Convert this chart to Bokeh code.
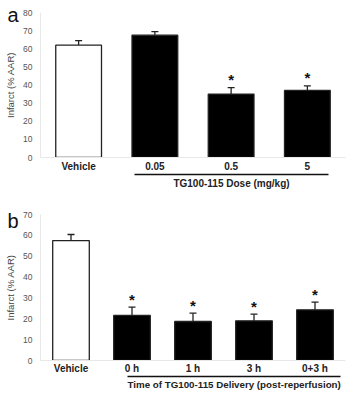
from bokeh.plotting import figure
from bokeh.models import (Range1d, LinearAxis, Whisker, ColumnDataSource,
                          FixedTicker, TeeHead)
from bokeh.layouts import column
from bokeh.embed import file_html
from bokeh.resources import INLINE
from bokeh.core.properties import value

# ---- data: panel a ----
cats_a = ["Vehicle", "0.05", "0.5", "5"]
vals_a = [62.0, 67.5, 35.0, 37.0]
err_a = [2.5, 2.0, 3.5, 2.5]
sig_a = [False, False, True, True]
ticks_a = [0, 10, 20, 30, 40, 50, 60, 70, 80]
title_a = "TG100-115 Dose (mg/kg)"

# ---- data: panel b ----
cats_b = ["Vehicle", "0 h", "1 h", "3 h", "0+3 h"]
vals_b = [57.5, 21.6, 18.7, 19.0, 24.3]
err_b = [2.9, 4.0, 4.0, 3.2, 3.7]
sig_b = [False, True, True, True, True]
ticks_b = [0, 10, 20, 30, 40, 50, 60, 70]
title_b = "Time of TG100-115 Delivery (post-reperfusion)"

FONT = "Liberation Sans"


def make_panel(letter, cats, vals, errs, sig, ticks, title, height, top, bottom,
               right, line_bounds, letter_y, cat_standoff, cat_lh, title_standoff,
               title_size):
    n = len(cats)
    xs = [i + 0.5 for i in range(n)]  # category slot centres
    p = figure(x_range=Range1d(0, n), y_range=Range1d(ticks[0], ticks[-1]),
               width=350, height=height, output_backend="svg", toolbar_location=None,
               min_border_left=40, min_border_right=right, min_border_top=top,
               min_border_bottom=bottom)
    p.outline_line_color = None
    p.xgrid.grid_line_color = None
    p.ygrid.grid_line_color = None

    fills = ["white" if i == 0 else "black" for i in range(n)]
    upper = [v + e for v, e in zip(vals, errs)]
    src = ColumnDataSource(dict(x=xs, top=vals, upper=upper, fill=fills))
    p.vbar(x="x", top="top", width=0.6, source=src, fill_color="fill",
           line_color="#222222", line_width=1.3)
    p.add_layout(Whisker(base="x", upper="upper", lower="top", source=src,
                         line_color="#222222", line_width=1.3,
                         upper_head=TeeHead(size=7, line_color="#222222", line_width=1.3),
                         lower_head=None))
    sx = [x for x, s in zip(xs, sig) if s]
    sy = [u for u, s in zip(upper, sig) if s]
    p.text(x=sx, y=sy, text=["*"] * len(sx), text_align="center",
           text_baseline="middle", y_offset=-8, text_font=value(FONT),
           text_font_size="15px", text_font_style="bold", text_color="#111111")

    # y axis
    ya = p.yaxis[0]
    ya.ticker = FixedTicker(ticks=ticks)
    ya.axis_line_color = "#e8e8e8"
    ya.major_tick_line_color = None
    ya.major_tick_out = 0
    ya.major_tick_in = 0
    ya.minor_tick_line_color = None
    ya.major_label_text_font = FONT
    ya.major_label_text_font_size = "8.5px"
    ya.major_label_text_color = "#555555"
    ya.major_label_standoff = 8
    ya.axis_label = "Infarct (% AAR)"
    ya.axis_label_text_font = FONT
    ya.axis_label_text_font_size = "9.5px"
    ya.axis_label_text_font_style = "normal"
    ya.axis_label_text_color = "#444444"
    ya.axis_label_standoff = 4

    # panel letter, drawn as the single label of an outer left axis
    la = LinearAxis(ticker=FixedTicker(ticks=[letter_y]),
                    major_label_overrides={letter_y: letter})
    la.axis_line_color = None
    la.major_tick_line_color = None
    la.major_tick_out = 0
    la.major_tick_in = 0
    la.minor_tick_line_color = None
    la.major_label_text_font = FONT
    la.major_label_text_font_size = "20px"
    la.major_label_text_color = "#111111"
    la.major_label_standoff = -16
    p.add_layout(la, "left")

    # x axis (categories)
    xa = p.xaxis[0]
    xa.ticker = FixedTicker(ticks=xs)
    xa.major_label_overrides = {x: c for x, c in zip(xs, cats)}
    xa.axis_line_color = "#e8e8e8"
    xa.major_tick_line_color = None
    xa.major_tick_out = 0
    xa.major_tick_in = 0
    xa.minor_tick_line_color = None
    xa.major_label_text_font = FONT
    xa.major_label_text_font_size = "10px"
    xa.major_label_text_font_style = "bold"
    xa.major_label_text_color = "#222222"
    xa.major_label_text_line_height = cat_lh
    xa.major_label_standoff = cat_standoff

    # group underline + centred group title
    mid = (line_bounds[0] + line_bounds[1]) / 2
    ga = LinearAxis(bounds=line_bounds, ticker=FixedTicker(ticks=[mid]),
                    major_label_overrides={mid: title})
    ga.axis_line_color = "#111111"
    ga.axis_line_width = 1.3
    ga.major_tick_line_color = None
    ga.major_tick_out = 0
    ga.major_tick_in = 0
    ga.minor_tick_line_color = None
    ga.major_label_text_font = FONT
    ga.major_label_text_font_size = title_size
    ga.major_label_text_font_style = "bold"
    ga.major_label_text_color = "#222222"
    ga.major_label_standoff = title_standoff
    p.add_layout(ga, "below")
    return p


pa = make_panel("a", cats_a, vals_a, err_a, sig_a, ticks_a, title_a, 197, 12, 40, 5,
                (1.23, 3.78), 78.6, 3, 1.6, 3, "10px")
pb = make_panel("b", cats_b, vals_b, err_b, sig_b, ticks_b, title_b, 197, 17, 34, 2,
                (1.43, 4.92), 67.1, 2, 1.9, 2, "9.75px")

layout = column(pa, pb)
open("out.html", "w").write(file_html(layout, INLINE))
